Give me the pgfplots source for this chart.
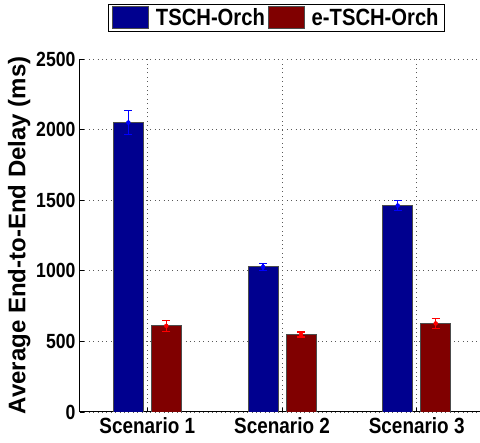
\documentclass[border=0pt]{standalone}
\usepackage{fontspec}
\setmainfont{Liberation Sans}[FakeStretch=0.86]
\newfontfamily\labelfont{Liberation Sans}
\usepackage{pgfplots}
\pgfplotsset{compat=1.18}
\definecolor{mblue}{RGB}{0,0,143}
\definecolor{mred}{RGB}{128,0,0}
\begin{document}
\begin{tikzpicture}
\begin{axis}[
  scale only axis,
  width=400pt, height=353pt,
  xmin=0.5, xmax=3.47,
  ymin=0, ymax=2500,
  ytick={0,500,1000,1500,2000,2500},
  xtick={1,2,3},
  xticklabels={Scenario 1,Scenario 2,Scenario 3},
  axis x line*=bottom, axis y line*=left,
  axis line style={black, line width=1pt},
  tick align=inside,
  major tick length=4pt,
  tick style={black, line width=0.6pt},
  grid=major,
  major grid style={black!65, line width=0.8pt, dash pattern=on 0.8pt off 3.6pt},
  /pgf/number format/assume math mode=true,
  /pgf/number format/set thousands separator={},
  yticklabel style={font=\fontsize{20.5}{20}\selectfont\bfseries, xshift=-1pt},
  xticklabel style={font=\fontsize{22}{22}\selectfont\bfseries, yshift=-2pt},
  ylabel={\labelfont\bfseries Average End-to-End Delay (ms)},
  ylabel style={font=\fontsize{24}{24}\selectfont, yshift=-1pt},
  legend columns=2,
  legend style={at={(0.491,1.156)}, anchor=north, draw=black, line width=1pt,
    font=\fontsize{23.5}{24}\selectfont\bfseries, inner xsep=4pt, inner ysep=2pt,
    /tikz/every odd column/.append style={column sep=5pt},
    /tikz/every even column/.append style={column sep=1pt}},
  legend image code/.code={\draw[#1, line width=0.8pt] (0pt,-11pt) rectangle (36pt,11pt);},
]
\addplot[ybar, bar width=30pt, bar shift=-19pt,
  fill=mblue, draw=black!70, line width=0.8pt]
  coordinates {(1,2050) (2,1028) (3,1462)};
\addplot[ybar, bar width=30pt, bar shift=19pt,
  fill=mred, draw=black!70, line width=0.8pt]
  coordinates {(1,610) (2,549) (3,627)};
\legend{TSCH-Orch,e-TSCH-Orch}
\addplot[only marks, mark=*, mark size=2pt, blue, forget plot,
  error bars/.cd, y dir=both, y explicit,
  error bar style={color=blue, line width=1.2pt},
  error mark options={rotate=90, mark size=4pt, blue, line width=1.2pt}]
  coordinates {(0.859,2050) +- (0,85) (1.859,1028) +- (0,24) (2.859,1462) +- (0,33)};
\addplot[only marks, mark=*, mark size=2pt, red, forget plot,
  error bars/.cd, y dir=both, y explicit,
  error bar style={color=red, line width=1.2pt},
  error mark options={rotate=90, mark size=4pt, red, line width=1.2pt}]
  coordinates {(1.141,610) +- (0,40) (2.141,549) +- (0,18) (3.141,627) +- (0,35)};
\end{axis}
\pgfresetboundingbox
\useasboundingbox (-80pt,-31pt) rectangle (400pt,412pt);
\end{tikzpicture}
\end{document}
